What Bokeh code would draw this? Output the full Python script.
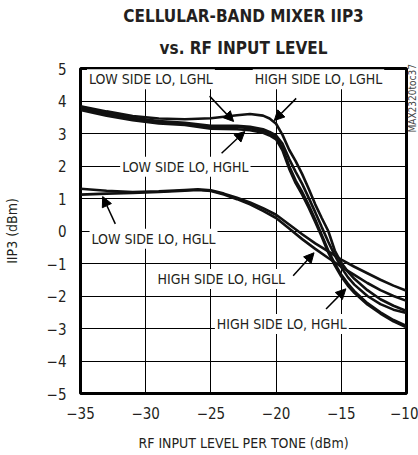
import math
from bokeh.plotting import figure
from bokeh.models import Label, Arrow, NormalHead, Title, FixedTicker
from bokeh.embed import file_html
from bokeh.resources import INLINE

# ---- data ----
x_hl = [-35, -33, -31, -29, -27, -25, -23, -22, -21, -20.5, -20, -19.5, -19, -18.5,
        -18, -17.5, -17, -16.5, -16, -15.5, -15, -14.5, -14, -13, -12, -11, -10]
high_lghl = [3.84, 3.68, 3.54, 3.46, 3.44, 3.47, 3.56, 3.6, 3.55, 3.46, 3.3, 2.95, 2.5, 2.15,
             1.75, 1.3, 0.82, 0.4, 0.0, -0.6, -0.98, -1.25, -1.47, -1.82, -2.1, -2.3, -2.46]
low_lghl = [3.78, 3.6, 3.45, 3.35, 3.3, 3.2, 3.2, 3.16, 3.08, 3.0, 2.88, 2.55, 2.0, 1.55,
            1.2, 0.8, 0.35, -0.12, -0.6, -1.0, -1.35, -1.62, -1.85, -2.22, -2.5, -2.74, -2.92]
low_hghl = [3.72, 3.55, 3.41, 3.31, 3.26, 3.15, 3.13, 3.1, 3.02, 2.94, 2.82, 2.47, 1.92, 1.47,
            1.12, 0.72, 0.28, -0.18, -0.66, -1.06, -1.4, -1.68, -1.9, -2.26, -2.54, -2.78, -2.96]
high_hghl = [3.82, 3.64, 3.48, 3.38, 3.33, 3.24, 3.24, 3.21, 3.13, 3.05, 2.94, 2.68, 2.22, 1.82,
             1.45, 1.02, 0.58, 0.12, -0.33, -0.75, -1.12, -1.42, -1.65, -2.0, -2.25, -2.42, -2.52]

x_ll = [-35, -33, -31, -29, -27, -26, -25, -24, -23, -22, -21, -20, -19, -18, -17, -16,
        -15, -14, -13, -12, -11, -10]
high_hgll = [1.3, 1.24, 1.2, 1.22, 1.26, 1.28, 1.25, 1.15, 1.02, 0.88, 0.7, 0.5, 0.2, -0.1,
             -0.38, -0.63, -0.88, -1.1, -1.3, -1.5, -1.68, -1.84]
low_hgll = [1.12, 1.15, 1.17, 1.2, 1.24, 1.26, 1.23, 1.12, 0.98, 0.82, 0.62, 0.4, 0.08, -0.25,
            -0.55, -0.83, -1.1, -1.35, -1.6, -1.82, -2.0, -2.15]

x_ticks = [-35, -30, -25, -20, -15, -10]
y_ticks = [-5, -4, -3, -2, -1, 0, 1, 2, 3, 4, 5]

FONT = "'Liberation Sans Narrow', 'DejaVu Sans Condensed', 'Roboto Condensed', Roboto"
INK = "#231f20"

p = figure(width=418, height=455, x_range=(-35, -10), y_range=(-5, 5),
           output_backend="svg", toolbar_location=None, title=None,
           min_border_left=78, min_border_right=12, min_border_top=68, min_border_bottom=62)

p.add_layout(Title(text="vs. RF INPUT LEVEL", align="center", text_font=FONT,
                   text_font_size="17px", text_font_style="bold", text_color=INK,
                   standoff=21), "above")
p.add_layout(Title(text="CELLULAR-BAND MIXER IIP3", align="center", text_font=FONT,
                   text_font_size="17px", text_font_style="bold", text_color=INK,
                   standoff=0), "above")

p.outline_line_color = "black"
p.outline_line_width = 3
p.background_fill_color = "white"

for g, t in ((p.xgrid, x_ticks), (p.ygrid, y_ticks)):
    g.ticker = FixedTicker(ticks=t)
    g.grid_line_color = "black"
    g.grid_line_alpha = 1
    g.grid_line_width = 1

p.xaxis.ticker = FixedTicker(ticks=x_ticks)
p.yaxis.ticker = FixedTicker(ticks=y_ticks)
for ax in (p.xaxis, p.yaxis):
    ax.axis_line_color = None
    ax.major_tick_line_color = None
    ax.minor_tick_line_color = None
    ax.major_tick_in = 0
    ax.major_tick_out = 0
    ax.minor_tick_in = 0
    ax.minor_tick_out = 0
    ax.major_label_text_font = FONT
    ax.major_label_text_font_size = "15px"
    ax.major_label_text_color = INK
    ax.axis_label_text_font = FONT
    ax.axis_label_text_font_size = "14px"
    ax.axis_label_text_font_style = "normal"
    ax.axis_label_text_color = INK
p.xaxis.major_label_standoff = 13
p.yaxis.major_label_standoff = 14
p.xaxis.axis_label = "RF INPUT LEVEL PER TONE (dBm)"
p.yaxis.axis_label = "IIP3 (dBm)"
p.xaxis.axis_label_standoff = 13
p.yaxis.axis_label_standoff = 24

for xs, ys in ((x_hl, high_lghl), (x_hl, low_lghl), (x_hl, low_hghl), (x_hl, high_hghl),
               (x_ll, high_hgll), (x_ll, low_hgll)):
    p.line(xs, ys, line_color="#111111", line_width=2.6)

labels = [
    ("LOW SIDE LO, LGHL", -29.6, 4.67),
    ("HIGH SIDE LO, LGHL", -16.75, 4.67),
    ("LOW SIDE LO, HGHL", -26.96, 1.98),
    ("LOW SIDE LO, HGLL", -29.4, -0.24),
    ("HIGH SIDE LO, HGLL", -24.2, -1.48),
    ("HIGH SIDE LO, HGHL", -19.56, -2.86),
]
for txt, lx, ly in labels:
    p.add_layout(Label(x=lx, y=ly, text=txt, text_align="center", text_baseline="middle",
                       text_font=FONT, text_font_size="14px", text_color=INK,
                       background_fill_color="white", padding=2))

arrows = [
    (-25.1, 4.15, -23.26, 3.37),
    (-18.46, 4.08, -20.14, 3.4),
    (-24.18, 2.39, -22.4, 3.06),
    (-32.33, 0.22, -33.3, 1.06),
    (-18.69, -1.38, -17.09, -0.67),
    (-16.17, -2.4, -14.65, -1.78),
]
for xs, ys, xe, ye in arrows:
    p.add_layout(Arrow(x_start=xs, y_start=ys, x_end=xe, y_end=ye, line_width=1.5,
                       line_color="black",
                       end=NormalHead(size=10, fill_color="black", line_color="black")))

# figure code in the right-hand margin, reading upward
p.add_layout(Label(x=6, y=261, x_units="screen", y_units="screen", angle=math.pi / 2,
                   text="MAX2320toc37", text_align="left", text_baseline="middle",
                   text_font=FONT, text_font_size="10px", text_color="#444444"), "right")

open("out.html", "w").write(file_html(p, INLINE))
